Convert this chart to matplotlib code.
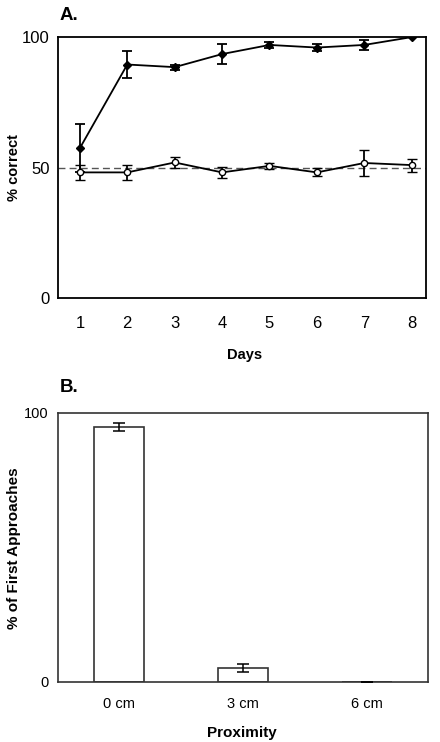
import matplotlib
matplotlib.use("Agg")
import matplotlib.pyplot as plt

plt.rcParams['font.family'] = ['Liberation Sans', 'DejaVu Sans']

# Panel A data
days = [1, 2, 3, 4, 5, 6, 7, 8]
trained = [57.5, 89.5, 88.5, 93.5, 97.0, 96.0, 97.0, 100.0]
trained_err = [9.2, 5.0, 1.0, 3.8, 1.0, 1.5, 2.0, 0.0]
control = [48.2, 48.2, 52.0, 48.2, 50.7, 48.2, 51.8, 51.0]
control_err = [3.0, 3.0, 2.0, 2.0, 1.2, 1.5, 5.0, 2.5]

# Panel B data
proximity = ['0 cm', '3 cm', '6 cm']
first_approach = [94.8, 5.0, 0.0]
first_approach_err = [1.5, 1.5, 0.0]

fig = plt.figure(figsize=(4.4, 7.42), dpi=100)

axA = fig.add_axes([0.132, 0.598, 0.836, 0.352])
axA.axhline(50, color='#555555', lw=1.0, ls=(0, (5, 3)), zorder=1)
axA.errorbar(days, trained, yerr=trained_err, color='black', lw=1.3,
             marker='D', ms=4, mfc='black', mec='black',
             capsize=3.5, elinewidth=1.3, capthick=1.3, zorder=3)
axA.errorbar(days, control, yerr=control_err, color='black', lw=1.3,
             marker='o', ms=4.5, mfc='white', mec='black', mew=1.0,
             capsize=3.5, elinewidth=1.3, capthick=1.3, zorder=3)
axA.set_xlim(0.54, 8.3)
axA.set_ylim(0, 100)
axA.set_xticks(days)
axA.set_yticks([0, 50, 100])
axA.tick_params(length=0, labelsize=12)
axA.tick_params(axis='x', pad=13)
axA.tick_params(axis='y', pad=6)
for s in axA.spines.values():
    s.set_linewidth(1.3)
axA.set_xlabel('Days', fontweight='bold', fontsize=10.5)
axA.xaxis.set_label_coords(0.508, -0.19)
axA.set_ylabel('% correct', fontweight='bold', fontsize=10.5)
axA.yaxis.set_label_coords(-0.10, 0.5)
fig.text(60 / 440, 1 - 15 / 742, 'A.', fontsize=13.5, fontweight='bold', va='center')

axB = fig.add_axes([0.132, 0.081, 0.841, 0.363])
xpos = range(len(proximity))
axB.bar(xpos, first_approach, width=0.4, color='white', edgecolor='#333333', lw=1.2, zorder=2)
axB.errorbar(xpos, first_approach, yerr=first_approach_err, fmt='none', ecolor='black',
             elinewidth=1.1, capsize=4, capthick=1.1, zorder=3)
axB.set_xlim(-0.49, 2.49)
axB.set_ylim(0, 100)
axB.set_xticks(list(xpos))
axB.set_xticklabels(proximity)
axB.set_yticks([0, 100])
axB.tick_params(length=0, labelsize=10.5)
axB.tick_params(axis='x', pad=11)
axB.tick_params(axis='y', pad=7)
for s in axB.spines.values():
    s.set_linewidth(1.2)
    s.set_color('#333333')
axB.set_xlabel('Proximity', fontweight='bold', fontsize=11)
axB.xaxis.set_label_coords(0.496, -0.165)
axB.set_ylabel('% of First Approaches', fontweight='bold', fontsize=11)
axB.yaxis.set_label_coords(-0.10, 0.497)
fig.text(60 / 440, 1 - 387 / 742, 'B.', fontsize=13.5, fontweight='bold', va='center')

fig.savefig('out.png', dpi=100)
